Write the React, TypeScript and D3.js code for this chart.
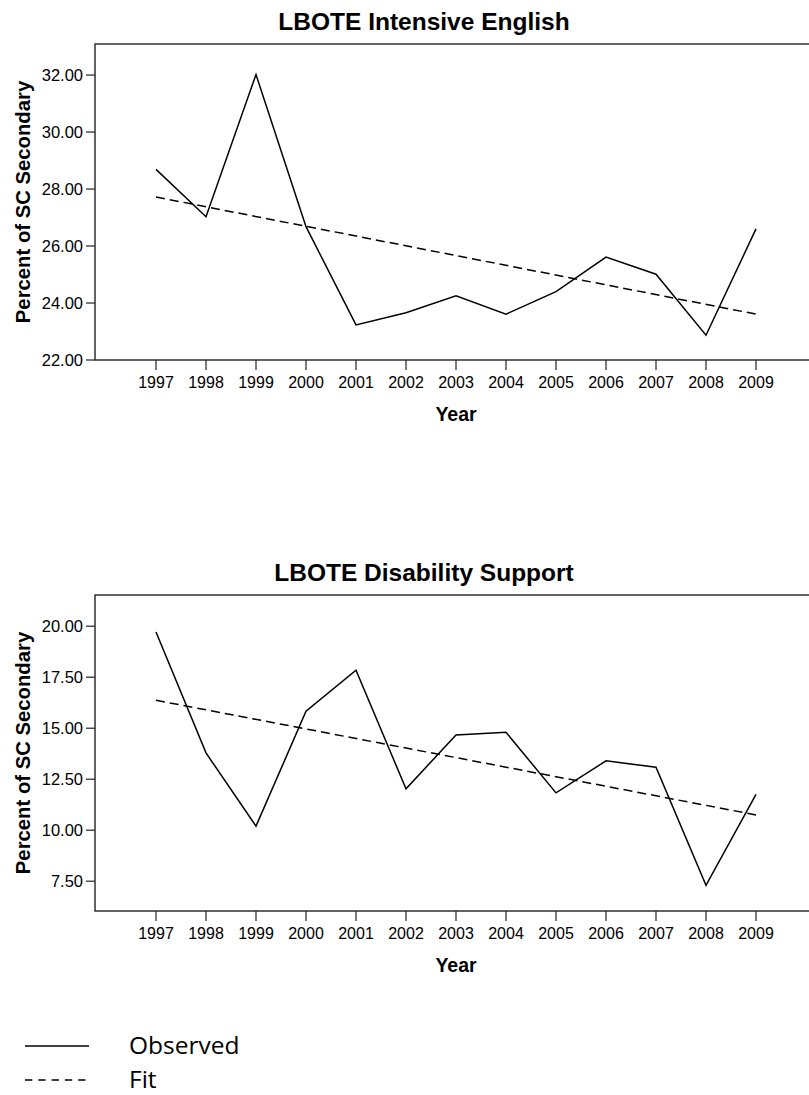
import React from "react";
import * as d3 from "d3";

// Calendar years on the x axis
const years = [1997, 1998, 1999, 2000, 2001, 2002, 2003, 2004, 2005, 2006, 2007, 2008, 2009];

// LBOTE Intensive English: observed percentages and linear fit at the end years
const englishObserved = [28.69, 27.03, 32.02, 26.68, 23.23, 23.66, 24.25, 23.61, 24.4, 25.61, 25.01, 22.87, 26.6];
const englishFitYears = [1997, 2009];
const englishFit = [27.72, 23.61];
const englishTicks = [22, 24, 26, 28, 30, 32];

// LBOTE Disability Support: observed percentages and linear fit at the end years
const disabilityObserved = [19.72, 13.79, 10.2, 15.83, 17.84, 12.03, 14.67, 14.8, 11.83, 13.4, 13.09, 7.3, 11.76];
const disabilityFitYears = [1997, 2009];
const disabilityFit = [16.37, 10.75];
const disabilityTicks = [7.5, 10, 12.5, 15, 17.5, 20];

const W = 809;
const H = 1095;
const FONT = "Arial, 'Liberation Sans', sans-serif";

const plotLeft = 95;
const plotRight = 814;
const plotHeight = 316;
const xScale = d3.scaleLinear().domain([1995.78, 2010.16]).range([plotLeft, plotRight]);

type PanelProps = {
  title: string;
  top: number;
  yDomain: [number, number];
  yTicks: number[];
  observed: number[];
  fitYears: number[];
  fit: number[];
};

function Panel({ title, top, yDomain, yTicks, observed, fitYears, fit }: PanelProps) {
  const bottom = top + plotHeight;
  const y = d3.scaleLinear().domain(yDomain).range([bottom, top]);
  const line = d3
    .line<[number, number]>()
    .x((d) => xScale(d[0]))
    .y((d) => y(d[1]));
  const obsPts = years.map((yr, i) => [yr, observed[i]] as [number, number]);
  const fitPts = fitYears.map((yr, i) => [yr, fit[i]] as [number, number]);
  const midY = (top + bottom) / 2;
  const tickCenter = (xScale(years[0]) + xScale(years[years.length - 1])) / 2;

  return (
    <g>
      <text x={424} y={top - 14} textAnchor="middle" fontFamily={FONT} fontWeight="bold" fontSize={24.5} fill="#000">
        {title}
      </text>
      <rect x={plotLeft} y={top} width={plotRight - plotLeft} height={plotHeight} fill="none" stroke="#222" strokeWidth={1.4} />
      {yTicks.map((t) => (
        <g key={t}>
          <line x1={plotLeft - 9} x2={plotLeft} y1={y(t)} y2={y(t)} stroke="#222" strokeWidth={1.2} />
          <text x={plotLeft - 12} y={y(t)} dy="0.35em" textAnchor="end" fontFamily={FONT} fontSize={16.5} fill="#000">
            {t.toFixed(2)}
          </text>
        </g>
      ))}
      {years.map((yr) => (
        <g key={yr}>
          <line x1={xScale(yr)} x2={xScale(yr)} y1={bottom} y2={bottom + 10} stroke="#222" strokeWidth={1.2} />
          <text x={xScale(yr)} y={bottom + 28} textAnchor="middle" fontFamily={FONT} fontSize={16} fill="#000">
            {yr}
          </text>
        </g>
      ))}
      <text x={tickCenter} y={bottom + 61} textAnchor="middle" fontFamily={FONT} fontWeight="bold" fontSize={19.5} fill="#000">
        Year
      </text>
      <text
        transform={`translate(30,${midY}) rotate(-90)`}
        textAnchor="middle"
        fontFamily={FONT}
        fontWeight="bold"
        fontSize={20.3}
        fill="#000"
      >
        Percent of SC Secondary
      </text>
      <path d={line(fitPts) ?? ""} fill="none" stroke="#000" strokeWidth={1.5} strokeDasharray="9,5" />
      <path d={line(obsPts) ?? ""} fill="none" stroke="#000" strokeWidth={1.5} strokeLinejoin="miter" />
    </g>
  );
}

export default function App() {
  return (
    <svg
      width={W}
      height={H}
      viewBox={`0 0 ${W} ${H}`}
      style={{ position: "absolute", left: 0, top: 0, background: "#fff", overflow: "hidden" }}
    >
      <rect x={0} y={0} width={W} height={H} fill="#fff" />
      <Panel
        title="LBOTE Intensive English"
        top={44}
        yDomain={[22, 33.09]}
        yTicks={englishTicks}
        observed={englishObserved}
        fitYears={englishFitYears}
        fit={englishFit}
      />
      <Panel
        title="LBOTE Disability Support"
        top={595}
        yDomain={[6.04, 21.53]}
        yTicks={disabilityTicks}
        observed={disabilityObserved}
        fitYears={disabilityFitYears}
        fit={disabilityFit}
      />
      <g>
        <line x1={25} x2={89} y1={1046} y2={1046} stroke="#000" strokeWidth={1.6} />
        <text x={129} y={1054} fontFamily="'Open Sans', sans-serif" fontSize={24.5} fill="#000">
          Observed
        </text>
        <line x1={25} x2={89} y1={1080} y2={1080} stroke="#000" strokeWidth={1.6} strokeDasharray="7.3,6" />
        <text x={129} y={1088} fontFamily="'Open Sans', sans-serif" fontSize={24.5} fill="#000">
          Fit
        </text>
      </g>
    </svg>
  );
}
